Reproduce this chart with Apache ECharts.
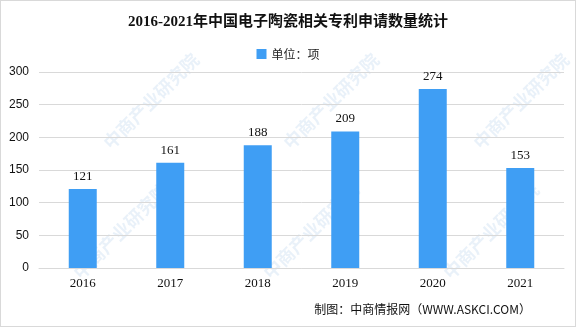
<!DOCTYPE html>
<html><head><meta charset="utf-8">
<script src="https://cdn.jsdelivr.net/npm/echarts@6/dist/echarts.min.js"></script>
<style>html,body{margin:0;padding:0;background:#fff}#c{width:576px;height:327px;box-sizing:border-box;border:1px solid #d9d9d9}</style>
</head><body><div id="c"></div>
<script>
const categories = ['2016','2017','2018','2019','2020','2021'];
const values = [121,161,188,209,274,153];
const seriesName = '单位：项';
const titleText = '2016-2021年中国电子陶瓷相关专利申请数量统计';
const footerText = '制图：中商情报网（WWW.ASKCI.COM）';
const wmText = '中商产业研究院';

const chart = echarts.init(document.getElementById('c'), null, {renderer:'canvas'});
const wm = [];
[[150,100],[330,100],[520,100],[120,230],[310,230],[490,230]].forEach(p=>{
  wm.push({type:'text', x:p[0], y:p[1], rotation:Math.PI/4, z:0,
    style:{text:wmText, fill:'rgba(120,170,215,0.16)', font:'bold 18px "Noto Sans CJK SC"', align:'center', verticalAlign:'middle'}});
});
chart.setOption({
  animation:false,
  title:{text:titleText, left:'center', top:9,
    textStyle:{fontSize:15, fontWeight:'bold', color:'#111', fontFamily:'"Liberation Serif","Noto Sans CJK SC"'}},
  legend:{top:42, left:'center', itemWidth:10, itemHeight:10, icon:'rect',
    textStyle:{fontSize:12, color:'#222', fontFamily:'"Noto Sans CJK SC"'}},
  grid:{left:38, right:11, top:71, bottom:58},
  xAxis:{type:'category', data:categories,
    axisLine:{lineStyle:{color:'#d9d9d9'}}, axisTick:{show:false},
    axisLabel:{color:'#111', fontSize:13, margin:9, fontFamily:'"Liberation Serif"'}},
  yAxis:{type:'value', min:0, max:300, interval:50,
    axisLine:{show:false}, axisTick:{show:false},
    splitLine:{lineStyle:{color:'#d9d9d9'}},
    axisLabel:{color:'#111', fontSize:12, margin:10, fontFamily:'"Liberation Sans"'}},
  graphic: wm.concat([{type:'text', right:44, bottom:11,
    style:{text:footerText, fill:'#111', font:'12px "Noto Sans CJK SC"'}}]),
  series:[{name:seriesName, type:'bar', data:values, barWidth:28,
    itemStyle:{color:'#3F9EF4'},
    label:{show:true, position:'top', distance:6, color:'#111', fontSize:13, fontFamily:'"Liberation Serif"'}}]
});
</script></body></html>
